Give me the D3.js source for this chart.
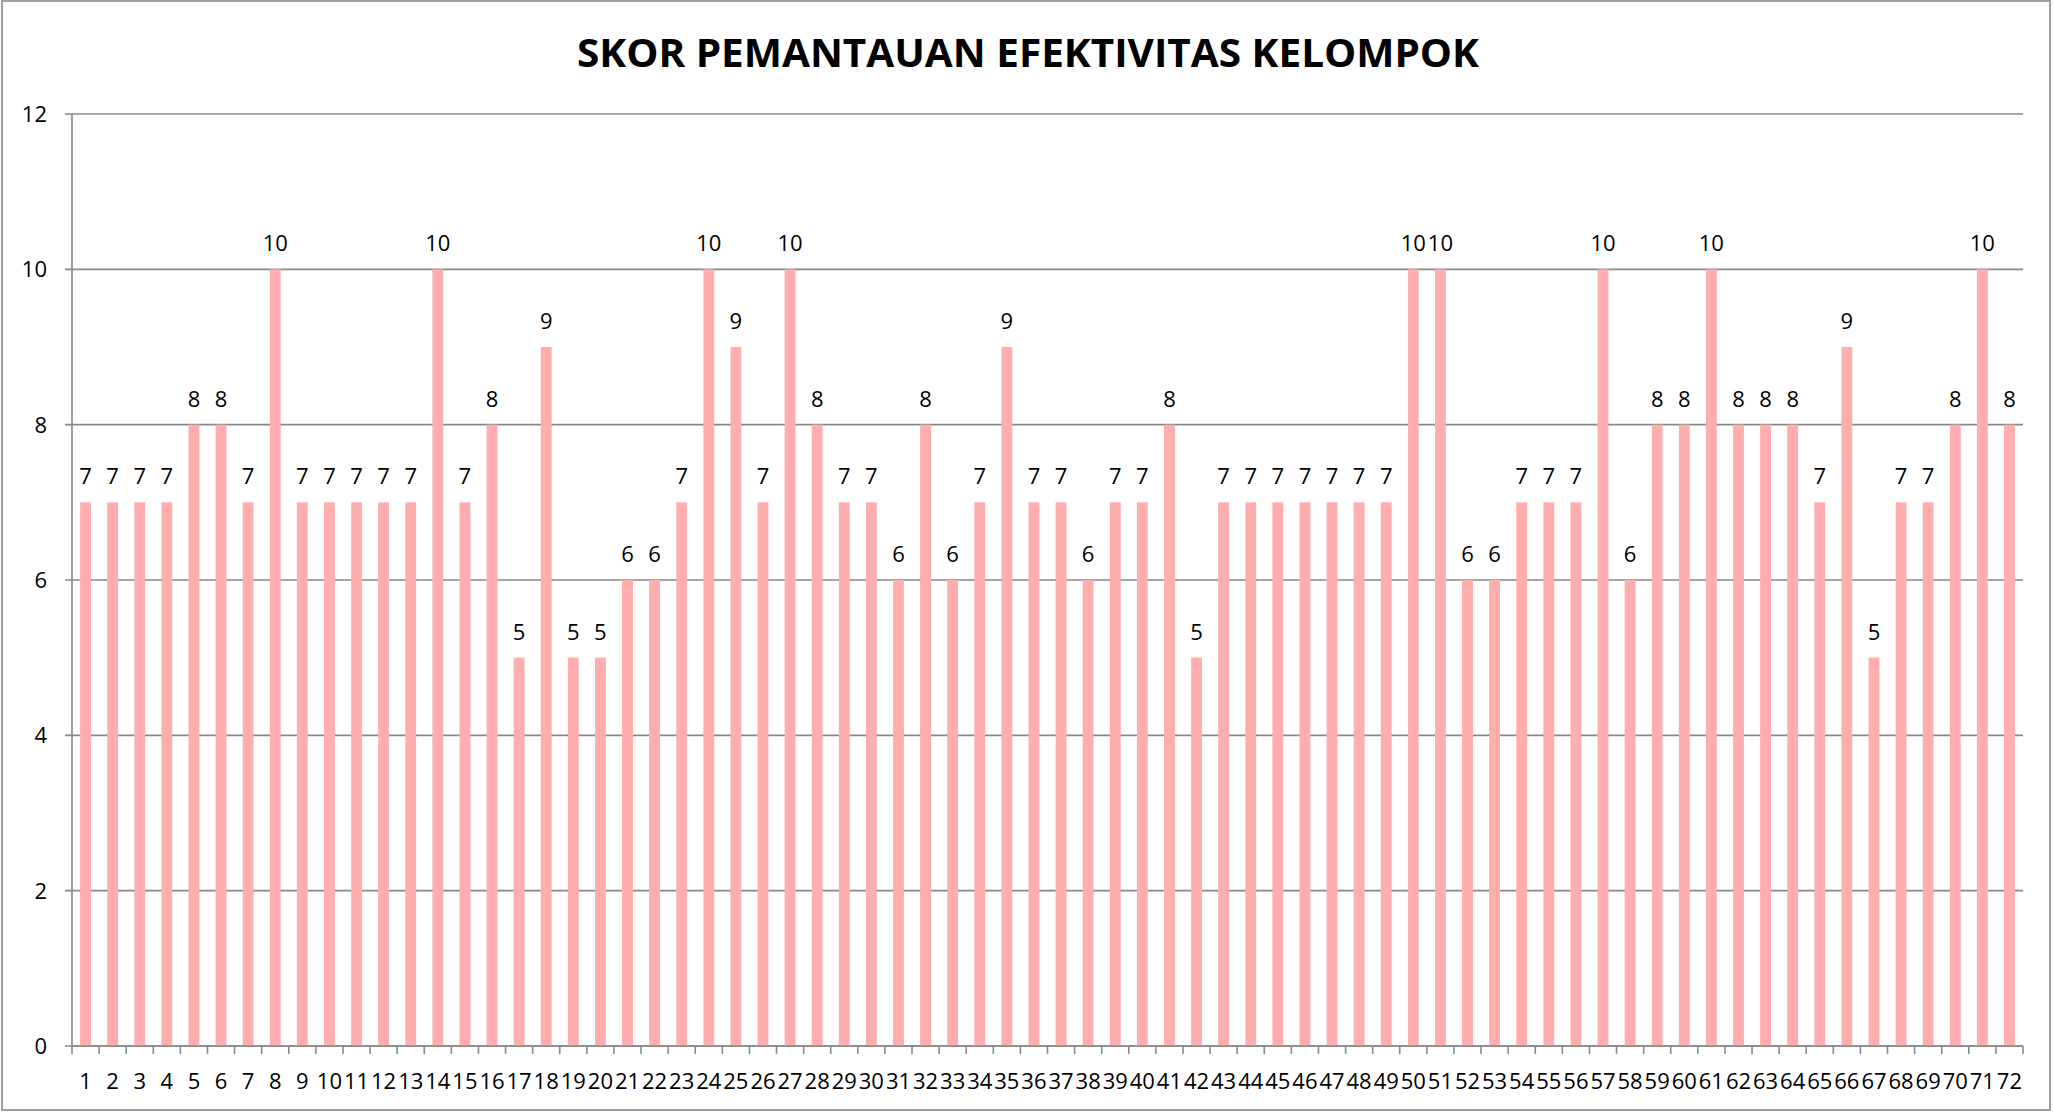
<!DOCTYPE html>
<html>
<head>
<meta charset="utf-8">
<script src="https://cdn.jsdelivr.net/npm/d3@7"></script>
<style>
  html, body { margin: 0; padding: 0; background: #fff; }
</style>
</head>
<body>
<div id="chart"></div>
<script>
// data
var kelompok = d3.range(1, 73).map(String);
var skor = [7, 7, 7, 7, 8, 8, 7, 10, 7, 7, 7, 7, 7, 10, 7, 8, 5, 9, 5, 5,
            6, 6, 7, 10, 9, 7, 10, 8, 7, 7, 6, 8, 6, 7, 9, 7, 7, 6, 7, 7,
            8, 5, 7, 7, 7, 7, 7, 7, 7, 10, 10, 6, 6, 7, 7, 7, 10, 6, 8, 8,
            10, 8, 8, 8, 7, 9, 5, 7, 7, 8, 10, 8];
var yTicks = [0, 2, 4, 6, 8, 10, 12];
var judul = "SKOR PEMANTAUAN EFEKTIVITAS KELOMPOK";

var width = 2053, height = 1112;
var margin = {left: 72, right: 30, top: 114, bottom: 66};

var svg = d3.select("#chart")
    .append("svg")
    .attr("width", width)
    .attr("height", height)
    .attr("style", "font-family:'Open Sans',sans-serif;");

// bingkai luar
svg.append("rect")
    .attr("x", 2).attr("y", 1)
    .attr("width", width - 5).attr("height", height - 3)
    .style("fill", "#fff")
    .style("stroke", "#9e9e9e")
    .style("stroke-width", 2);

var x = d3.scaleBand()
    .domain(kelompok)
    .range([margin.left, width - margin.right])
    .paddingInner(0.6)
    .paddingOuter(0.3);

var y = d3.scaleLinear()
    .domain([0, 12])
    .range([height - margin.bottom, margin.top]);

// garis grid
svg.append("g")
    .selectAll("line")
    .data(yTicks)
    .enter().append("line")
    .attr("x1", margin.left - 7)
    .attr("x2", width - margin.right)
    .attr("y1", function(d) { return y(d); })
    .attr("y2", function(d) { return y(d); })
    .style("stroke", "#888")
    .style("stroke-width", 1.6);

// sumbu y
svg.append("line")
    .attr("x1", margin.left).attr("x2", margin.left)
    .attr("y1", y(12)).attr("y2", y(0))
    .style("stroke", "#888")
    .style("stroke-width", 1.6);

svg.append("g")
    .selectAll("text")
    .data(yTicks)
    .enter().append("text")
    .attr("x", 47)
    .attr("y", function(d) { return y(d); })
    .attr("dy", "0.36em")
    .attr("text-anchor", "end")
    .style("font-size", "22px")
    .text(function(d) { return d; });

// batang
svg.append("g")
    .selectAll("rect")
    .data(skor)
    .enter().append("rect")
    .attr("x", function(d, i) { return x(kelompok[i]); })
    .attr("y", function(d) { return y(d); })
    .attr("width", x.bandwidth())
    .attr("height", function(d) { return y(0) - y(d); })
    .style("fill", "#ffadad");

// label data
svg.append("g")
    .selectAll("text")
    .data(skor)
    .enter().append("text")
    .attr("x", function(d, i) { return x(kelompok[i]) + x.bandwidth() / 2; })
    .attr("y", function(d) { return y(d) - 18; })
    .attr("text-anchor", "middle")
    .style("font-size", "22px")
    .text(function(d) { return d; });

// sumbu x dengan tick di batas kategori
var step = x.step();
var x0 = margin.left;
svg.append("line")
    .attr("x1", margin.left).attr("x2", width - margin.right)
    .attr("y1", y(0)).attr("y2", y(0))
    .style("stroke", "#888")
    .style("stroke-width", 1.6);

svg.append("g")
    .selectAll("line")
    .data(d3.range(kelompok.length + 1))
    .enter().append("line")
    .attr("x1", function(i) { return x0 + i * step; })
    .attr("x2", function(i) { return x0 + i * step; })
    .attr("y1", y(0))
    .attr("y2", y(0) + 8)
    .style("stroke", "#888")
    .style("stroke-width", 1.6);

svg.append("g")
    .selectAll("text")
    .data(kelompok)
    .enter().append("text")
    .attr("x", function(d) { return x(d) + x.bandwidth() / 2; })
    .attr("y", y(0) + 43)
    .attr("text-anchor", "middle")
    .style("font-size", "22px")
    .text(function(d) { return d; });

// judul
svg.append("text")
    .attr("x", 1028)
    .attr("y", 67)
    .attr("text-anchor", "middle")
    .attr("textLength", 902)
    .attr("lengthAdjust", "spacingAndGlyphs")
    .style("font-size", "40px")
    .style("font-weight", "bold")
    .text(judul);
</script>
</body>
</html>
